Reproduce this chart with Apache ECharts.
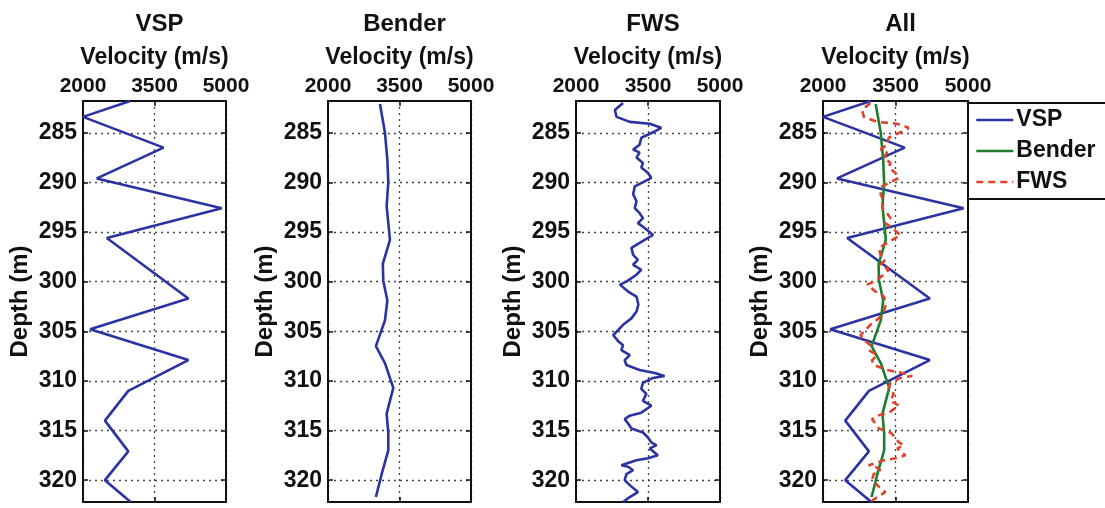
<!DOCTYPE html>
<html>
<head>
<meta charset="UTF-8">
<title>Velocity profiles</title>
<script src="https://cdn.jsdelivr.net/npm/echarts@6/dist/echarts.min.js"></script>
<style>
  html, body { margin: 0; padding: 0; background: #fff; }
  #chart { width: 1105px; height: 508px; }
</style>
</head>
<body>
<div id="chart"></div>
<script>
// tick labels
var depthTicks = [285, 290, 295, 300, 305, 310, 315, 320];
var velocityTicks = [2000, 3500, 5000];
var panelTitles = ['VSP', 'Bender', 'FWS', 'All'];
var legendNames = ['VSP', 'Bender', 'FWS'];

// VSP (10 ft spacing)
var vspDepth = [281.8, 283.4, 286.5, 289.6, 292.6, 295.6, 301.7, 304.8, 307.9, 311.0, 314.0, 317.1, 320.0, 322.2];
var vspVel   = [2990, 2000, 3690, 2290, 4910, 2500, 4210, 2150, 4210, 2950, 2460, 2950, 2460, 3000];

// Bender
var benderDepth = [282.1, 285.0, 287.7, 290.0, 292.4, 295.8, 298.2, 299.9, 301.9, 303.9, 306.5, 308.2, 310.7, 313.3, 315.3, 317.0, 319.4, 321.7];
var benderVel   = [3090, 3195, 3245, 3265, 3230, 3300, 3150, 3160, 3245, 3195, 3005, 3195, 3370, 3230, 3265, 3265, 3125, 3005];

// FWS
var fwsDepth = [282.0, 282.7, 283.4, 283.9, 284.1, 284.5, 284.95, 285.5, 286.2, 286.7, 287.0, 287.5, 288.05, 288.5, 289.05, 289.55, 289.9,
  290.4, 291.2, 291.9, 292.6, 293.1, 293.6, 294.1, 294.6, 295.3, 295.9, 296.6, 297.3, 297.8, 298.3, 298.8, 299.3, 300.0, 300.3,
  301.0, 301.5, 302.3, 303.0, 303.7, 304.35, 305.4, 306.0, 306.4, 306.9, 307.4, 307.9, 308.4, 308.9, 309.2, 309.5, 309.7, 310.2,
  310.8, 311.3, 312.0, 312.5, 312.7, 313.2, 313.5, 313.85, 314.3, 314.8, 315.2, 315.7, 316.2, 316.5, 316.8, 317.5, 317.8, 318.0,
  318.5, 318.65, 319.0, 319.4, 320.0, 320.5, 321.2, 321.7, 322.2];
var fwsVel = [2980, 2810, 2845, 3120, 3535, 3775, 3605, 3360, 3325, 3190, 3325, 3260, 3395, 3360, 3500, 3570, 3430,
  3225, 3190, 3260, 3225, 3325, 3395, 3290, 3430, 3605, 3395, 3155, 3190, 3290, 3190, 3360, 3260, 3050, 2915,
  3085, 3260, 3300, 3260, 3155, 2980, 2775, 2880, 2980, 2945, 3120, 3015, 3050, 3325, 3640, 3845, 3605, 3395,
  3360, 3465, 3395, 3570, 3605, 3360, 3120, 3015, 3085, 3155, 3395, 3500, 3570, 3675, 3535, 3705, 3500, 3260,
  2945, 3085, 3190, 3050, 3015, 3120, 3290, 3120, 2980];

var BLUE = '#2b33a3', GREEN = '#1d7d2e', RED = '#e0432b';
var FONT = 'Liberation Sans, Arial, sans-serif';

function pairs(vel, dep) {
  var out = [];
  for (var i = 0; i < vel.length; i++) out.push([vel[i], dep[i]]);
  return out;
}

var panelLeft = [83, 328, 576, 823];
var panelWidth = [143, 143, 144, 145];
var gridTop = 101, gridHeight = 401;
var dMin = 281.8, dMax = 322.2;

var grids = [], xAxes = [], yAxes = [], titles = [];

for (var p = 0; p < 4; p++) {
  grids.push({ left: panelLeft[p], top: gridTop, width: panelWidth[p], height: gridHeight, show: false });
  titles.push({
    text: panelTitles[p], left: panelLeft[p] + panelWidth[p] / 2, top: 7, textAlign: 'center',
    textStyle: { fontFamily: FONT, fontSize: 24, fontWeight: 'bold', color: '#111' }
  });
  var line = { show: true, lineStyle: { color: '#111', width: 2 } };
  var tick = { show: true, inside: true, length: 5, lineStyle: { color: '#111', width: 1.5 }, customValues: velocityTicks };
  xAxes.push({
    type: 'value', gridIndex: p, position: 'top', min: 2000, max: 5000,
    name: 'Velocity (m/s)', nameLocation: 'middle', nameGap: 32,
    nameTextStyle: { fontFamily: FONT, fontSize: 23, fontWeight: 'bold', color: '#111' },
    axisLine: line, axisTick: tick,
    axisLabel: { customValues: velocityTicks, margin: 4, fontFamily: FONT, fontSize: 21, fontWeight: 'bold', color: '#111',
      formatter: function (v) { return String(v); } },
    splitLine: { show: true, lineStyle: { color: '#444', width: 1.3, type: [2, 4] } }
  });
  xAxes.push({
    type: 'value', gridIndex: p, position: 'bottom', min: 2000, max: 5000,
    axisLine: line, axisTick: tick, axisLabel: { show: false }, splitLine: { show: false }
  });
  var ytick = { show: true, inside: true, length: 5, lineStyle: { color: '#111', width: 1.5 }, customValues: depthTicks };
  yAxes.push({
    type: 'value', gridIndex: p, position: 'left', inverse: true, min: dMin, max: dMax,
    name: 'Depth (m)', nameLocation: 'middle', nameGap: 51, nameRotate: 90,
    nameTextStyle: { fontFamily: FONT, fontSize: 24, fontWeight: 'bold', color: '#111' },
    axisLine: line, axisTick: ytick,
    axisLabel: { customValues: depthTicks, margin: 6, fontFamily: FONT, fontSize: 23, fontWeight: 'bold', color: '#111' },
    splitLine: { show: true, lineStyle: { color: '#444', width: 1.3, type: [2, 4] } }
  });
  yAxes.push({
    type: 'value', gridIndex: p, position: 'right', inverse: true, min: dMin, max: dMax,
    axisLine: line, axisTick: ytick, axisLabel: { show: false }, splitLine: { show: false }
  });
}

function lineSeries(name, p, data, color, dash) {
  return {
    name: name, type: 'line', xAxisIndex: 2 * p, yAxisIndex: 2 * p, data: data,
    symbol: 'none', showSymbol: false, clip: true,
    lineStyle: { color: color, width: 2.6, type: dash || 'solid' },
    itemStyle: { color: color }
  };
}

var series = [
  lineSeries('VSP only', 0, pairs(vspVel, vspDepth), BLUE),
  lineSeries('Bender only', 1, pairs(benderVel, benderDepth), BLUE),
  lineSeries('FWS only', 2, pairs(fwsVel, fwsDepth), BLUE),
  lineSeries('VSP', 3, pairs(vspVel, vspDepth), BLUE),
  lineSeries('Bender', 3, pairs(benderVel, benderDepth), GREEN),
  lineSeries('FWS', 3, pairs(fwsVel, fwsDepth), RED, [7, 5])
];

var chart = echarts.init(document.getElementById('chart'));
chart.setOption({
  animation: false,
  backgroundColor: '#fff',
  title: titles,
  grid: grids,
  xAxis: xAxes,
  yAxis: yAxes,
  legend: {
    data: legendNames, orient: 'vertical', left: 968, top: 103,
    itemWidth: 37, itemHeight: 14, itemGap: 7,
    padding: [5, 30, 5, 7],
    borderColor: '#111', borderWidth: 2, backgroundColor: '#fff',
    selectedMode: false,
    itemStyle: { opacity: 0 },
    lineStyle: { width: 2.6 },
    textStyle: { fontFamily: FONT, fontSize: 23, fontWeight: 'bold', color: '#111', lineHeight: 24, padding: [0, 0, 0, -2] }
  },
  series: series
});
</script>
</body>
</html>
